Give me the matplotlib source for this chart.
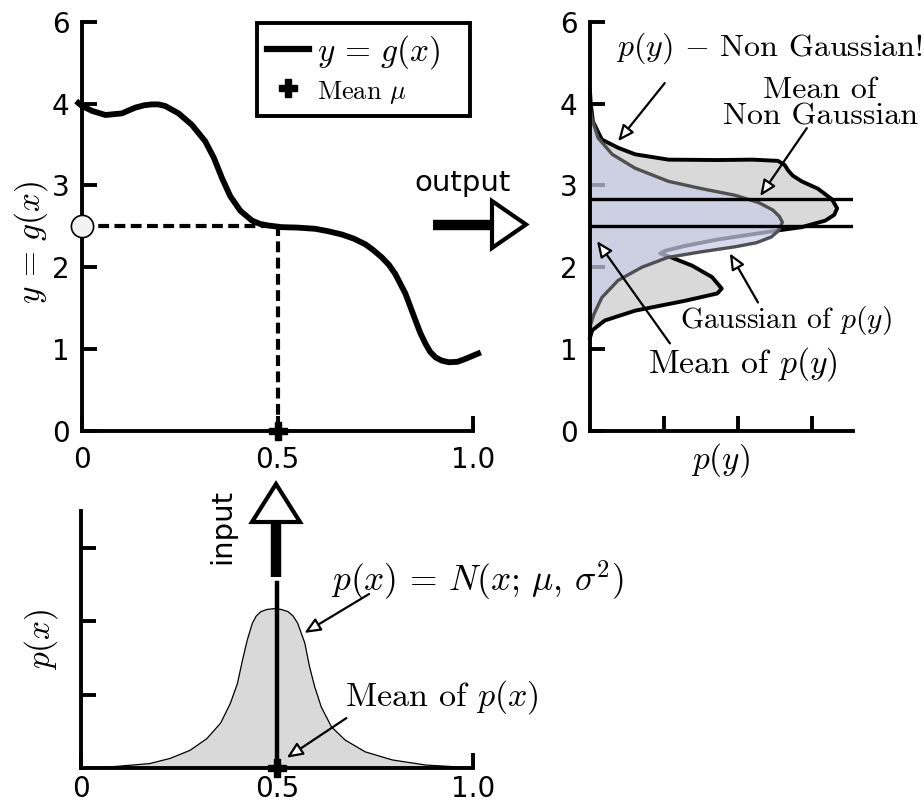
import numpy as np
import matplotlib
matplotlib.use("Agg")
import matplotlib.pyplot as plt
from matplotlib.lines import Line2D
from matplotlib.patches import Polygon

plt.rcParams['mathtext.fontset'] = 'cm'
plt.rcParams['font.family'] = 'DejaVu Sans'

# y = g(x)
g_x = [-0.015, 0.0, 0.026, 0.06, 0.102, 0.136, 0.16, 0.179, 0.195, 0.213, 0.247,
       0.281, 0.315, 0.337, 0.358, 0.379, 0.405, 0.435, 0.455, 0.477, 0.511, 0.55,
       0.597, 0.63, 0.665, 0.695, 0.725, 0.745, 0.767, 0.785, 0.801, 0.827, 0.853,
       0.865, 0.878, 0.89, 0.904, 0.92, 0.938, 0.96, 0.98, 1.02]
g_y = [4.03, 3.97, 3.91, 3.86, 3.88, 3.95, 3.98, 3.99, 3.99, 3.97, 3.88,
       3.74, 3.54, 3.34, 3.09, 2.87, 2.69, 2.57, 2.53, 2.51, 2.49, 2.485,
       2.47, 2.44, 2.40, 2.35, 2.28, 2.21, 2.12, 2.03, 1.92, 1.68, 1.35,
       1.20, 1.07, 0.97, 0.90, 0.86, 0.84, 0.845, 0.88, 0.96]

# p(x), input density
px_x = [0.0, 0.086, 0.175, 0.227, 0.278, 0.321, 0.356, 0.381, 0.399, 0.412, 0.424,
        0.437, 0.447, 0.459, 0.475, 0.493, 0.51, 0.528, 0.541, 0.553, 0.571, 0.583,
        0.596, 0.613, 0.639, 0.674, 0.725, 0.794, 0.88, 0.945, 1.0]
px_y = [0.0, 0.02, 0.06, 0.13, 0.24, 0.40, 0.61, 0.88, 1.15, 1.47, 1.74,
        1.97, 2.07, 2.13, 2.16, 2.17, 2.16, 2.13, 2.07, 1.97, 1.70, 1.38,
        1.11, 0.83, 0.56, 0.38, 0.22, 0.11, 0.04, 0.02, 0.0]

# p(y), non Gaussian output density
py_p = [0.0, 0.01, 0.04, 0.16, 0.38, 0.61, 1.06, 1.73, 2.19, 2.54, 2.63, 2.68,
        2.74, 2.86, 3.08, 3.27, 3.34, 3.30, 3.18, 2.86, 2.54, 1.73, 1.28, 1.01,
        0.95, 1.10, 1.38, 1.65, 1.78, 1.72, 1.28, 0.61, 0.20, 0.03, 0.0]
py_y = [4.15, 4.0, 3.78, 3.56, 3.46, 3.38, 3.315, 3.31, 3.315, 3.30, 3.25, 3.18,
        3.12, 3.05, 2.96, 2.83, 2.72, 2.64, 2.57, 2.49, 2.45, 2.34, 2.26, 2.20,
        2.17, 2.12, 2.02, 1.88, 1.74, 1.68, 1.59, 1.47, 1.35, 1.23, 1.14]

# Gaussian of p(y)
gy_p = [0.0, 0.03, 0.11, 0.30, 0.61, 1.06, 1.51, 1.96, 2.28, 2.47, 2.56, 2.60,
        2.55, 2.45, 2.25, 1.96, 1.51, 1.05, 0.70, 0.38, 0.16, 0.05, 0.0]
gy_y = [3.94, 3.80, 3.58, 3.38, 3.21, 3.05, 2.96, 2.88, 2.79, 2.70, 2.62, 2.55,
        2.45, 2.37, 2.30, 2.25, 2.19, 2.12, 2.00, 1.84, 1.63, 1.42, 1.27]

mu_x = 0.5
mu_y = 2.5
mean_ng = 2.83

y_ticks = [0, 1, 2, 3, 4, 5]
y_tick_labels = ['0', '1', '2', '3', '4', '6']
x_ticks = [0, 0.5, 1.0]
x_tick_labels = ['0', '0.5', '1.0']

W, H = 924, 807
fig = plt.figure(figsize=(W / 100, H / 100), dpi=100)


def axes_px(left, top, right, bottom):
    return fig.add_axes([left / W, 1 - bottom / H, (right - left) / W, (bottom - top) / H])


def fp(x, y):
    return (x / W, 1 - y / H)


def style(ax, xpad=11):
    for s in ['top', 'right']:
        ax.spines[s].set_visible(False)
    for s in ['left', 'bottom']:
        ax.spines[s].set_linewidth(2.8)
    ax.tick_params(direction='in', length=11, width=2.8, labelsize=20)
    ax.tick_params(axis='y', pad=9)
    ax.tick_params(axis='x', pad=xpad)


ax1 = axes_px(82, 21.7, 473, 431)
ax2 = axes_px(590, 21.7, 852.7, 431)
ax3 = axes_px(81, 511, 473, 768)

cmr = dict(fontfamily='cmr10')
arrow = dict(arrowstyle='-|>,head_length=0.8,head_width=0.35', fc='white', ec='k',
             lw=1.6, mutation_scale=12, shrinkA=0, shrinkB=0)

# top left: y = g(x)
style(ax1)
ax1.plot(g_x, g_y, color='k', lw=4.2, solid_capstyle='butt', solid_joinstyle='round',
         clip_on=False, zorder=3)
ax1.plot([0, mu_x], [mu_y, mu_y], color='k', lw=3.0, ls=(0, (2.6, 1.3)), zorder=2)
ax1.plot([mu_x, mu_x], [0, mu_y], color='k', lw=3.0, ls=(0, (2.6, 1.3)), zorder=2)
ax1.plot([0], [mu_y], 'o', ms=16, mfc='#f2f2f2', mec='k', mew=1.2, clip_on=False, zorder=6)
ax1.plot([mu_x], [0], 'P', ms=13, color='k', clip_on=False, zorder=6)
ax1.set_xlim(0, 1)
ax1.set_ylim(0, 5)
ax1.set_xticks(x_ticks)
ax1.set_xticklabels(x_tick_labels)
ax1.set_yticks(y_ticks)
ax1.set_yticklabels(y_tick_labels)
ax1.text(-0.13, 0.46, r'$y \,=\, g(x)$', transform=ax1.transAxes, rotation=90,
         ha='center', va='center', fontsize=24)
h1 = Line2D([], [], color='k', lw=4.5)
h2 = Line2D([], [], color='k', marker='P', ls='none', ms=13)
leg = ax1.legend([h1, h2], [r'$y \,=\, g(x)$', r'Mean $\mu$'], loc='upper left',
                 bbox_to_anchor=(257 / W, 1 - 117 / H, 213 / W, 94 / H),
                 bbox_transform=fig.transFigure, mode='expand',
                 fancybox=False, framealpha=1, edgecolor='k', prop={'size': 24},
                 borderpad=0.3, handlelength=1.25, handletextpad=0.25,
                 labelspacing=0.15, borderaxespad=0)
leg.get_frame().set_linewidth(2.8)
leg.get_texts()[1].set_fontsize(19)
leg.get_texts()[1].set_family('cmr10')

# top right: p(y)
style(ax2)
ax2.fill(py_p, py_y, color='#d9d9d9', lw=0, zorder=1, clip_on=False)
ax2.plot(py_p, py_y, color='k', lw=2.8, zorder=1.2, clip_on=False)
ax2.fill(gy_p, gy_y, color=(0.79, 0.80, 0.90), alpha=0.72, lw=0, zorder=1.6)
ax2.plot(gy_p, gy_y, color='#505050', lw=2.4, zorder=1.7, clip_on=False)
ax2.axhline(mu_y, color='k', lw=2.4, zorder=3)
ax2.axhline(mean_ng, color='k', lw=2.4, zorder=3)
ax2.set_xlim(0, 3.55)
ax2.set_ylim(0, 5)
ax2.set_xticks([1, 2, 3])
ax2.set_xticklabels([])
ax2.set_yticks(y_ticks)
ax2.set_yticklabels(y_tick_labels)
ax2.text(0.498, -0.07, r'$p(y)$', transform=ax2.transAxes, ha='center', va='center', fontsize=24)
ax2.text(2.43, 4.67, r'$p(y)$ $-$ Non Gaussian!', ha='center', va='center', fontsize=23, **cmr)
ax2.annotate('', xy=(0.38, 3.54), xytext=(1.01, 4.25), arrowprops=arrow)
ax2.text(3.11, 4.0, 'Mean of\nNon Gaussian', ha='center', va='center',
         multialignment='center', linespacing=0.95, fontsize=23, **cmr)
ax2.annotate('', xy=(2.30, 2.87), xytext=(2.93, 3.70), arrowprops=arrow)
ax2.text(2.65, 1.35, r'Gaussian of $p(y)$', ha='center', va='center', fontsize=21.3, **cmr)
ax2.annotate('', xy=(1.89, 2.17), xytext=(2.27, 1.57), arrowprops=arrow)
ax2.text(2.07, 0.82, r'Mean of $p(y)$', ha='center', va='center', fontsize=24.3, **cmr)
ax2.annotate('', xy=(0.095, 2.32), xytext=(1.08, 1.07), arrowprops=arrow)

# bottom left: p(x)
style(ax3, xpad=5)
ax3.fill(px_x, px_y, color='#d9d9d9', lw=0, zorder=1)
ax3.plot(px_x, px_y, color='k', lw=0.9, zorder=1.2)
ax3.plot([mu_x, mu_x], [0, 2.52], color='k', lw=3.2, zorder=3)
ax3.plot([mu_x], [0], 'P', ms=13, color='k', clip_on=False, zorder=6)
ax3.set_xlim(0, 1)
ax3.set_ylim(0, 3.5)
ax3.set_xticks(x_ticks)
ax3.set_xticklabels(x_tick_labels)
ax3.set_yticks([1, 2, 3])
ax3.set_yticklabels([])
ax3.text(-0.103, 0.5, r'$p(x)$', transform=ax3.transAxes, rotation=90,
         ha='center', va='center', fontsize=24)
ax3.text(1.01, 2.56, r'$p(x) \,=\, N(x;\, \mu,\, \sigma^2)$', ha='center', va='center',
         fontsize=25.5)
ax3.annotate('', xy=(0.57, 1.84), xytext=(0.735, 2.37), arrowprops=arrow)
ax3.text(0.92, 0.97, r'Mean of $p(x)$', ha='center', va='center', fontsize=24.5, **cmr)
ax3.annotate('', xy=(0.525, 0.14), xytext=(0.677, 0.68), arrowprops=arrow)

# big output / input arrows between panels
fig.add_artist(Line2D(*zip(fp(433, 225), fp(492, 225)), color='k', lw=7.5,
                      solid_capstyle='butt', transform=fig.transFigure))
fig.add_artist(Polygon([fp(492, 201), fp(526, 224.5), fp(492, 248)], closed=True,
                       fc='white', ec='k', lw=3, transform=fig.transFigure))
fig.text(*fp(463, 191), 'output', ha='center', va='baseline', fontsize=21)

fig.add_artist(Line2D(*zip(fp(276, 577), fp(276, 522)), color='k', lw=7.5,
                      solid_capstyle='butt', transform=fig.transFigure))
fig.add_artist(Polygon([fp(252, 522), fp(276, 484), fp(300, 522)], closed=True,
                       fc='white', ec='k', lw=3, transform=fig.transFigure))
fig.text(*fp(222, 526), 'input', ha='center', va='center', rotation=90, fontsize=21)

fig.savefig('out.png', dpi=100)
